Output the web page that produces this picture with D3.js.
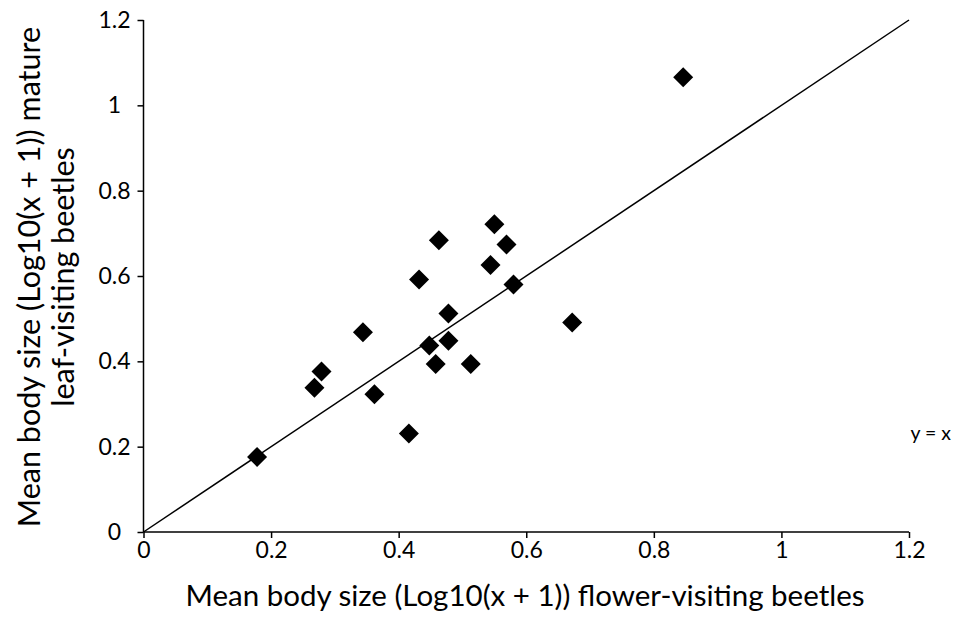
<!DOCTYPE html>
<html>
<head>
<meta charset="utf-8">
<script src="https://cdn.jsdelivr.net/npm/d3@7"></script>
<style>
  html, body { margin: 0; padding: 0; background: #fff; }
  svg text { font-family: Lato, "Open Sans", sans-serif; fill: #000; }
</style>
</head>
<body>
<svg id="chart" width="954" height="627"></svg>
<script>
// Mean body size, log10(x + 1): flower-visiting vs. mature leaf-visiting beetles
const flowerSize = [0.178, 0.268, 0.279, 0.344, 0.362, 0.416, 0.432, 0.448, 0.458, 0.463,
                    0.478, 0.478, 0.513, 0.544, 0.550, 0.569, 0.580, 0.672, 0.846];
const leafSize   = [0.176, 0.338, 0.376, 0.468, 0.323, 0.231, 0.592, 0.437, 0.394, 0.684,
                    0.448, 0.512, 0.394, 0.626, 0.721, 0.674, 0.580, 0.491, 1.066];
const xTicks = [0, 0.2, 0.4, 0.6, 0.8, 1, 1.2];
const yTicks = [0, 0.2, 0.4, 0.6, 0.8, 1, 1.2];
const refLine = [0, 1.2];   // y = x reference line endpoints

const svg = d3.select("#chart");
const plotLeft = 143.5, plotRight = 909, plotTop = 20, plotBottom = 532;

const x = d3.scaleLinear().domain([0, 1.2]).range([plotLeft, plotRight]);
const y = d3.scaleLinear().domain([0, 1.2]).range([plotBottom, plotTop]);

const fmt = d => d === 0 ? "0" : String(+d.toFixed(1));

// x axis
const gx = svg.append("g").attr("transform", `translate(0,${plotBottom})`)
  .call(d3.axisBottom(x).tickValues(xTicks).tickFormat(fmt).tickSize(6).tickPadding(4));
// y axis
const gy = svg.append("g").attr("transform", `translate(${plotLeft},0)`)
  .call(d3.axisLeft(y).tickValues(yTicks).tickFormat(fmt).tickSize(6).tickPadding(8));

[gx, gy].forEach(g => {
  g.attr("font-size", null).attr("font-family", null);
  g.select(".domain").attr("stroke", "#000").attr("stroke-width", 1.5);
  g.selectAll(".tick line").attr("stroke", "#000").attr("stroke-width", 1.5);
  g.selectAll(".tick text").style("font-size", "23px").attr("fill", "#000");
});
gx.select(".domain").attr("d", `M${plotLeft},0H${plotRight}`);
gy.select(".domain").attr("d", `M0,${plotTop}V${plotBottom}`);
// y tick labels are centred in a column left of the axis
gy.selectAll(".tick text").attr("text-anchor", "middle").attr("x", -29);

// y = x line
svg.append("line")
  .attr("x1", x(refLine[0])).attr("y1", y(refLine[0]))
  .attr("x2", x(refLine[1])).attr("y2", y(refLine[1]))
  .attr("stroke", "#000").attr("stroke-width", 1.5);

// diamond markers
const r = 10;
const diamond = `M0,${-r}L${r},0L0,${r}L${-r},0Z`;
svg.append("g").selectAll("path")
  .data(flowerSize.map((v, i) => [v, leafSize[i]]))
  .join("path")
  .attr("d", diamond)
  .attr("transform", d => `translate(${x(d[0])},${y(d[1])})`)
  .attr("fill", "#000");

// line label
svg.append("text").attr("x", 951).attr("y", 440)
  .attr("text-anchor", "end")
  .style("font-size", "19.5px").text("y = x");

// axis titles
svg.append("text").attr("x", 525).attr("y", 606)
  .attr("text-anchor", "middle").style("font-size", "29.5px")
  .text("Mean body size (Log10(x + 1)) flower-visiting beetles");

const yt = svg.append("text")
  .attr("transform", "translate(0,277) rotate(-90)")
  .attr("text-anchor", "middle").style("font-size", "30.5px");
yt.append("tspan").attr("x", 0).attr("y", 40).text("Mean body size (Log10(x + 1)) mature");
yt.append("tspan").attr("x", 0).attr("y", 74).text("leaf-visiting beetles");
</script>
</body>
</html>
